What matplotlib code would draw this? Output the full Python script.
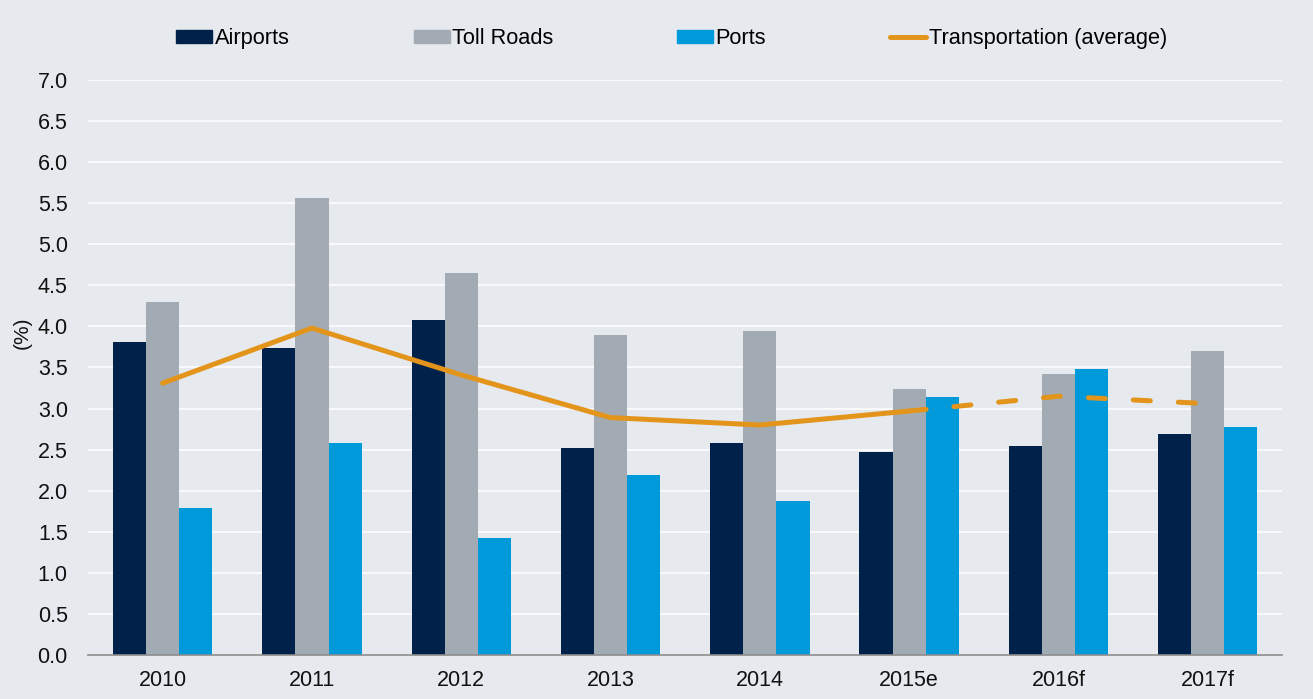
import matplotlib
matplotlib.use("Agg")
import matplotlib.pyplot as plt
from matplotlib.lines import Line2D
from matplotlib.patches import Patch
import numpy as np

years = ["2010", "2011", "2012", "2013", "2014", "2015e", "2016f", "2017f"]
airports = [3.81, 3.74, 4.08, 2.52, 2.58, 2.47, 2.54, 2.69]
toll_roads = [4.30, 5.56, 4.65, 3.90, 3.94, 3.24, 3.42, 3.70]
ports = [1.79, 2.58, 1.42, 2.19, 1.87, 3.14, 3.48, 2.78]
transport_avg = [3.31, 3.98, 3.41, 2.89, 2.80, 2.97, 3.15, 3.06]
n_actual = 6  # solid through 2015e, dashed afterwards

c_air = "#00224A"
c_toll = "#A2ABB3"
c_port = "#009ADA"
c_line = "#E3941A"
bg = "#E6E9EE"

plt.rcParams['font.family'] = ['Liberation Sans', 'DejaVu Sans']

fig = plt.figure(figsize=(13.13, 6.99), dpi=100, facecolor=bg)
ax = fig.add_axes([0.067, 0.0629, 0.9097, 0.8227], facecolor=bg)

x = np.arange(len(years))
w = 0.222
ax.bar(x - w, airports, w, color=c_air, zorder=2)
ax.bar(x, toll_roads, w, color=c_toll, zorder=2)
ax.bar(x + w, ports, w, color=c_port, zorder=2)

lw = 3.6
ax.plot(x[:n_actual], transport_avg[:n_actual], color=c_line, lw=lw,
        solid_capstyle='round', solid_joinstyle='round', zorder=3)
ax.plot(x[n_actual - 1:], transport_avg[n_actual - 1:], color=c_line, lw=lw,
        dashes=(3.4, 5.6), dash_capstyle='round', zorder=3)

ax.set_xlim(-0.5, len(years) - 0.5)
ax.set_ylim(0, 7.0)
yt = np.arange(0, 7.01, 0.5)
ax.set_yticks(yt)
ax.set_yticklabels([f"{v:.1f}" for v in yt])
ax.set_xticks(x)
ax.set_xticklabels(years)
ax.tick_params(axis='both', length=0, labelsize=15.5, colors='#111111')
ax.tick_params(axis='x', pad=11)
ax.tick_params(axis='y', pad=14.5)
ax.grid(axis='y', color='white', lw=1.1, zorder=0)
ax.set_axisbelow(True)
for s in ['top', 'right', 'left']:
    ax.spines[s].set_visible(False)
ax.spines['bottom'].set_color('#8C8C8C')
ax.spines['bottom'].set_linewidth(1.2)
ax.spines['bottom'].set_zorder(4)

ax.set_ylabel("(%)", fontsize=15, color='#111111')
ax.yaxis.set_label_coords(-0.047, 0.56)

handles = [Patch(color=c_air), Patch(color=c_toll), Patch(color=c_port),
           Line2D([0], [0], color=c_line, lw=lw, solid_capstyle='round')]
labels = ["Airports", "Toll Roads", "Ports", "Transportation (average)"]
fig.legend(handles, labels, loc='center', bbox_to_anchor=(0.5115, 0.9445), ncol=4,
           frameon=False, fontsize=15.7, handlelength=1.65, handleheight=0.48,
           handletextpad=0.1, columnspacing=5.7)

fig.savefig("out.png", dpi=100, facecolor=bg)
